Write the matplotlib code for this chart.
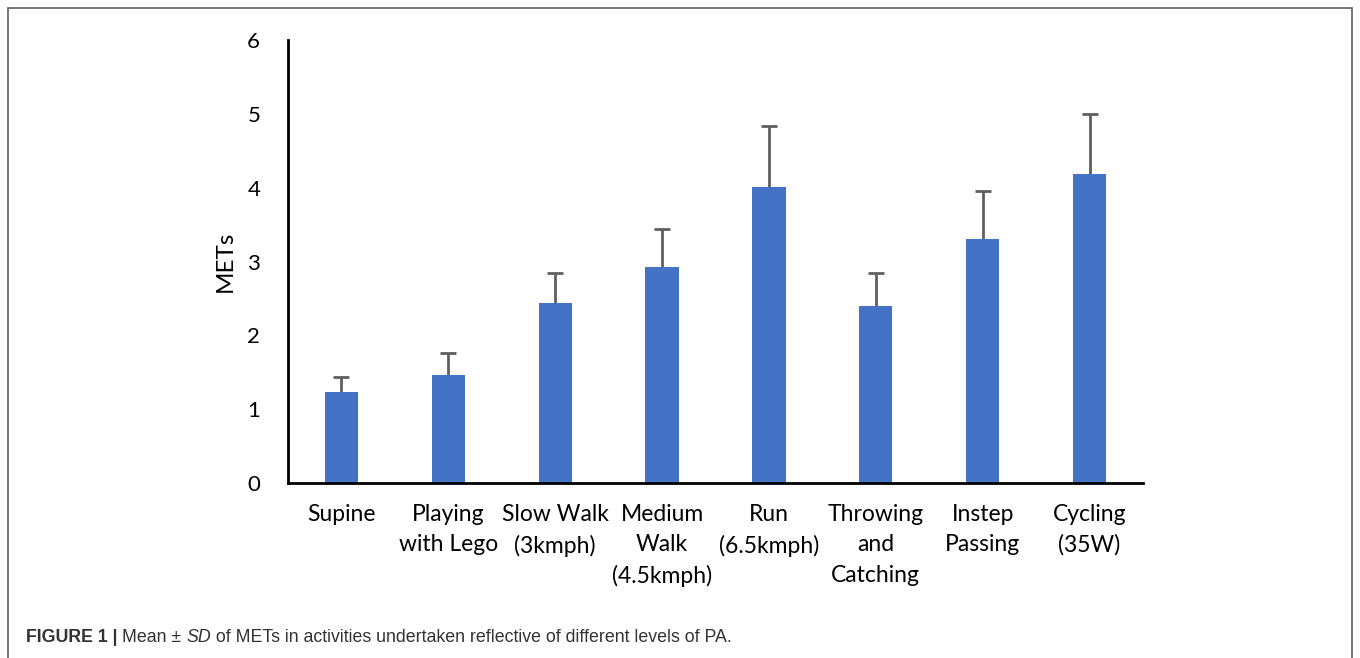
# Bar chart of METs (mean +/- SD) for different activities
import numpy as np
import matplotlib
matplotlib.use("Agg")
import matplotlib.pyplot as plt
from matplotlib.patches import Rectangle

# Data
activities = ["Supine", "Playing\nwith Lego", "Slow Walk\n(3kmph)", "Medium\nWalk\n(4.5kmph)",
              "Run\n(6.5kmph)", "Throwing\nand\nCatching", "Instep\nPassing", "Cycling\n(35W)"]
mets_mean = [1.23, 1.46, 2.44, 2.93, 4.01, 2.40, 3.30, 4.19]
mets_sd = [0.21, 0.30, 0.41, 0.51, 0.82, 0.44, 0.66, 0.81]
y_ticks = [0, 1, 2, 3, 4, 5, 6]

plt.rcParams['font.family'] = ['Lato', 'DejaVu Sans']

fig = plt.figure(figsize=(13.6, 6.58), dpi=100)
ax = fig.add_axes([288 / 1360, 1 - 483 / 658, (1143 - 288) / 1360, (483 - 40) / 658])

x = np.arange(len(activities))
ax.bar(x, mets_mean, width=0.31, color="#4472C4", zorder=2)
# only the upper half of the error bar is shown
_, caps, _ = ax.errorbar(x, mets_mean, yerr=[np.zeros(len(mets_sd)), mets_sd], fmt="none",
                         ecolor="#5f5f5f", elinewidth=2, capsize=6, capthick=2, zorder=1)
caps[0].set_visible(False)

ax.set_xlim(-0.5, len(activities) - 0.5)
ax.set_ylim(0, 6)
ax.set_yticks(y_ticks)
ax.set_yticklabels([str(t) for t in y_ticks], fontsize=16)
ax.set_xticks(x)
ax.set_xticklabels(activities, fontsize=16.5, linespacing=1.55)
ax.tick_params(axis="both", length=0)
ax.tick_params(axis="y", pad=20)
ax.tick_params(axis="x", pad=15)
for s in ["top", "right"]:
    ax.spines[s].set_visible(False)
for s in ["left", "bottom"]:
    ax.spines[s].set_linewidth(2)
    ax.spines[s].set_color("black")
ax.set_ylabel("METs", fontsize=17.5, labelpad=8)

# Frame round the figure
fig.patches.append(Rectangle((8 / 1360, -0.05), (1352 - 8) / 1360, 1.05 - 8 / 658,
                             transform=fig.transFigure, fill=False,
                             edgecolor="#606060", linewidth=1.2))

# Caption built from pieces (bold / regular / italic)
cap_font = ['Liberation Sans', 'DejaVu Sans']
parts = [("FIGURE 1 | ", "bold", "normal"), ("Mean ± ", "normal", "normal"),
         ("SD", "normal", "italic"), (" of METs in activities undertaken reflective of different levels of PA.", "normal", "normal")]
fig.canvas.draw()
renderer = fig.canvas.get_renderer()
xpos = 26 / 1360
for txt, weight, style in parts:
    t = fig.text(xpos, 1 - 638 / 658, txt, fontsize=12.8, fontweight=weight, fontstyle=style,
                 family=cap_font, color="#333333", va="center", ha="left")
    bb = t.get_window_extent(renderer=renderer)
    xpos += bb.width / 1360

fig.savefig("out.png", dpi=100)
